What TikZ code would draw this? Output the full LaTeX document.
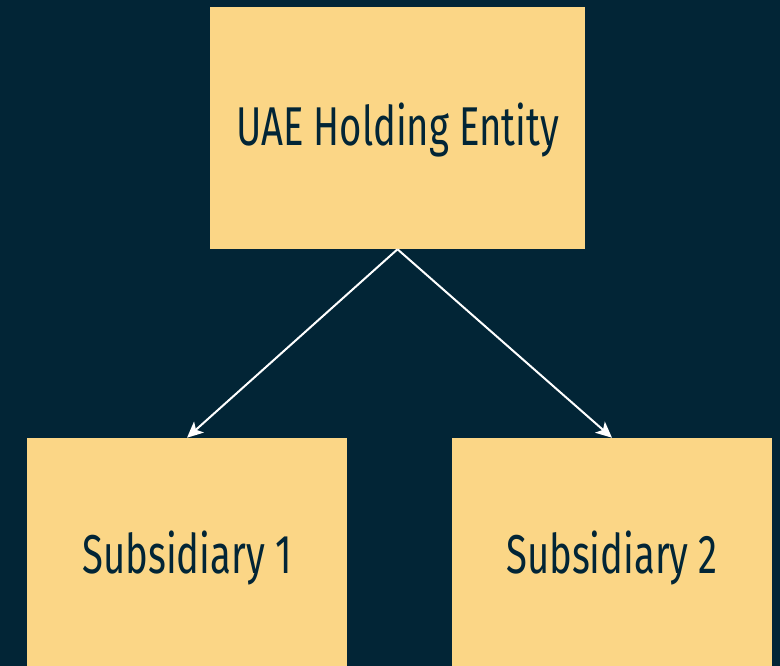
\documentclass[tikz,border=0pt]{standalone}
\usepackage{fontspec}
\setmainfont{Fira Sans}[FakeStretch=0.7]
\usetikzlibrary{positioning, arrows.meta}
\definecolor{navybg}{HTML}{022536}
\definecolor{sandbox}{HTML}{FBD686}
\newcommand{\boxlabel}[1]{\raisebox{-13.5pt}[0pt][0pt]{#1}}

\begin{document}
\begin{tikzpicture}[x=0.75pt, y=-0.75pt,
        entity/.style={rectangle, minimum width=281.25pt, minimum height=181.5pt, align=center, fill=sandbox, text=navybg, inner sep=0pt, font=\fontsize{41}{46}\selectfont},
        subsid/.style={rectangle, minimum width=240pt, minimum height=175.5pt, align=center, fill=sandbox, text=navybg, inner sep=0pt, font=\fontsize{41}{46}\selectfont},
        arrow/.style={draw=white, line width=1.5pt, -{Stealth[length=12pt, width=11pt, inset=3pt]}}]

        % Hintergrund und Bildausschnitt
        \fill[navybg] (0,0) rectangle (780,666);
        \useasboundingbox (0,0) rectangle (780,666);
        \clip (0,0) rectangle (780,666);

        % Obere Ebene - Holding
        \node (holding) [entity] at (397.5,128) {\boxlabel{UAE Holding Entity}};

        % Untere Ebene - Tochtergesellschaften
        \node (sub1) [subsid] at (187,555) {\boxlabel{Subsidiary 1}};
        \node (sub2) [subsid] at (612,555) {\boxlabel{Subsidiary 2}};

        % Verbindungen
        \draw [arrow] (holding.south) -- (sub1.north);
        \draw [arrow] (holding.south) -- (sub2.north);

\end{tikzpicture}
\end{document}
